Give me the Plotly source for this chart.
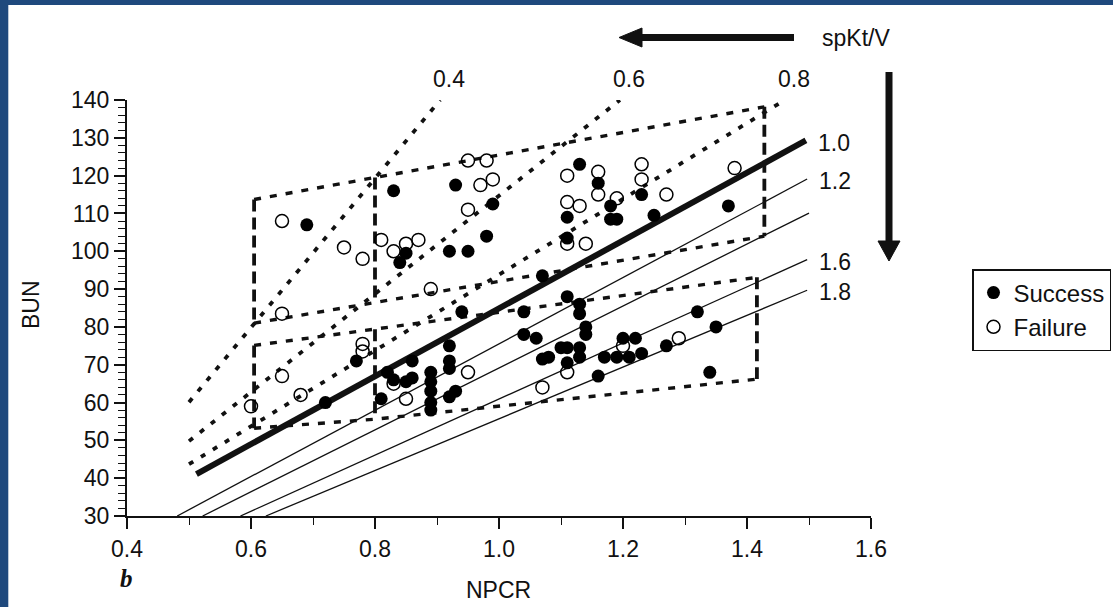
import plotly.graph_objects as go

# ---- patient observations (NPCR, pre-dialysis BUN) ----
success_npcr = [0.69, 0.83, 0.93, 0.99, 0.98, 0.92, 0.95, 0.85, 0.84, 0.94, 0.77, 0.72,
                0.81, 0.82, 0.83, 0.86, 0.85, 0.86, 0.89, 0.89, 0.89, 0.89, 0.89, 0.92,
                0.92, 0.92, 0.93, 0.92, 1.07, 1.11, 1.13, 1.13, 1.14, 1.14, 1.04, 1.04,
                1.06, 1.20, 1.22, 1.10, 1.11, 1.13, 1.07, 1.08, 1.11, 1.13, 1.17, 1.19,
                1.21, 1.23, 1.27, 1.16, 1.32, 1.35, 1.34, 1.13, 1.16, 1.18, 1.18, 1.19,
                1.11, 1.23, 1.25, 1.11, 1.37]
success_bun = [107, 116, 117.5, 112.5, 104, 100, 100, 99.5, 97, 84, 71, 60,
               61, 68, 66, 71, 65.5, 66.5, 68, 65.5, 63, 60, 58, 75,
               71, 69, 63, 61.5, 93.5, 88, 86, 83.5, 80, 78, 84, 78,
               77, 77, 77, 74.5, 74.5, 74.5, 71.5, 72, 70.5, 72, 72, 72,
               72, 73, 75, 67, 84, 80, 68, 123, 118, 112, 108.5, 108.5,
               109, 115, 109.5, 103.5, 112]

failure_npcr = [0.65, 0.75, 0.78, 0.81, 0.83, 0.85, 0.87, 0.89, 0.95, 0.97, 0.99, 0.95,
                0.98, 0.65, 0.65, 0.68, 0.60, 0.78, 0.78, 0.83, 0.85, 0.95, 1.11, 1.16,
                1.16, 1.23, 1.23, 1.27, 1.11, 1.13, 1.19, 1.11, 1.14, 1.38, 1.29, 1.11,
                1.07, 1.20]
failure_bun = [108, 101, 98, 103, 100, 102, 103, 90, 111, 117.5, 119, 124,
               124, 83.5, 67, 62, 59, 75.5, 73.5, 65, 61, 68, 120, 121,
               115, 123, 119, 115, 113, 112, 114, 102, 102, 122, 77, 68,
               64, 75]

# ---- spKt/V iso-lines (solid) ----
ktv_labels = ["1.0", "1.2", "1.4", "1.6", "1.8"]
ktv_npcr_start = [0.512, 0.481, 0.522, 0.583, 0.624]
ktv_bun_start = [41.1, 30, 30, 30, 30]
ktv_npcr_end = [1.495, 1.497, 1.500, 1.497, 1.497]
ktv_bun_end = [129.3, 119.1, 110.1, 97.8, 89.7]
ktv_widths = [6, 1.3, 1.3, 1.3, 1.3]
ktv_labelled = ["1.0", "1.2", "1.6", "1.8"]

# ---- low spKt/V lines (dotted) ----
low_ktv_labels = ["0.4", "0.6", "0.8"]
low_npcr_start = [0.50, 0.50, 0.50]
low_bun_start = [60.1, 49.8, 43.7]
low_npcr_end = [0.905, 1.195, 1.461]
low_bun_end = [140, 140, 140]

# ---- zone boundaries (dashed) ----
zone_edge_npcr = [[0.605, 1.428], [0.605, 1.428], [0.605, 1.416], [0.605, 0.8, 1.416]]
zone_edge_bun = [[113.7, 138.2], [81.0, 104.0], [75.1, 93.1], [53.2, 55.6, 66.2]]
zone_side_npcr = [0.605, 0.605, 0.8, 0.8, 1.428, 1.416]
zone_side_bun_top = [113.7, 75.1, 119.5, 79.4, 138.2, 93.1]
zone_side_bun_bottom = [81.0, 53.2, 86.5, 55.6, 104.0, 66.2]

x_ticks = [0.4, 0.6, 0.8, 1.0, 1.2, 1.4, 1.6]
y_ticks = [30, 40, 50, 60, 70, 80, 90, 100, 110, 120, 130, 140]

W, H = 1113, 607
L, R, T, B = 127, 242, 100, 91
FONT = "Liberation Sans, Arial, Helvetica, sans-serif"
INK = "#111111"
FRAME = "#1f497d"


def fx(p):
    return (p - L) / (W - L - R)


def fy(p):
    return (H - B - p) / (H - T - B)


def joined(xs_list, ys_list):
    xs, ys = [], []
    for a, b in zip(xs_list, ys_list):
        xs += list(a) + [None]
        ys += list(b) + [None]
    return xs, ys


fig = go.Figure()

# zone boundaries
ex, ey = joined(zone_edge_npcr, zone_edge_bun)
fig.add_trace(go.Scatter(x=ex, y=ey, mode="lines", showlegend=False, hoverinfo="skip",
                         line=dict(color=INK, width=3.4, dash="7px,9px")))
sx, sy = joined([[v, v] for v in zone_side_npcr],
                [[a, b] for a, b in zip(zone_side_bun_top, zone_side_bun_bottom)])
fig.add_trace(go.Scatter(x=sx, y=sy, mode="lines", showlegend=False, hoverinfo="skip",
                         line=dict(color=INK, width=3.8, dash="12px,6px")))

# low spKt/V dotted lines
dx, dy = joined([[a, b] for a, b in zip(low_npcr_start, low_npcr_end)],
                [[a, b] for a, b in zip(low_bun_start, low_bun_end)])
fig.add_trace(go.Scatter(x=dx, y=dy, mode="lines", showlegend=False, hoverinfo="skip",
                         line=dict(color=INK, width=3.8, dash="5px,9px")))

# solid spKt/V lines
for i in range(len(ktv_labels)):
    fig.add_trace(go.Scatter(x=[ktv_npcr_start[i], ktv_npcr_end[i]],
                             y=[ktv_bun_start[i], ktv_bun_end[i]],
                             mode="lines", showlegend=False, hoverinfo="skip",
                             line=dict(color=INK, width=ktv_widths[i])))

# patients
fig.add_trace(go.Scatter(x=success_npcr, y=success_bun, mode="markers", name="Success",
                         marker=dict(symbol="circle", size=13, color="black",
                                     line=dict(width=0))))
fig.add_trace(go.Scatter(x=failure_npcr, y=failure_bun, mode="markers", name="Failure",
                         marker=dict(symbol="circle-open", size=13, color="black",
                                     line=dict(width=1.5))))

annotations = []
for lab in ktv_labelled:
    i = ktv_labels.index(lab)
    annotations.append(dict(x=ktv_npcr_end[i] + 0.016, y=ktv_bun_end[i] - 0.6,
                            xref="x", yref="y", text=lab, showarrow=False,
                            xanchor="left", yanchor="middle",
                            font=dict(family=FONT, size=23, color=INK)))
for i, lab in enumerate(low_ktv_labels):
    annotations.append(dict(x=low_npcr_end[i] + 0.015, y=fy(79), xref="x", yref="paper",
                            text=lab, showarrow=False, xanchor="center",
                            yanchor="middle", font=dict(family=FONT, size=23, color=INK)))
annotations += [
    dict(x=fx(856), y=fy(38), xref="paper", yref="paper", text="spKt/V",
         showarrow=False, xanchor="center", yanchor="middle",
         font=dict(family=FONT, size=23, color=INK)),
    dict(x=fx(31), y=fy(305), xref="paper", yref="paper", text="BUN", textangle=-90,
         showarrow=False, xanchor="center", yanchor="middle",
         font=dict(family=FONT, size=23, color=INK)),
    dict(x=fx(498), y=fy(590), xref="paper", yref="paper", text="NPCR",
         showarrow=False, xanchor="center", yanchor="middle",
         font=dict(family=FONT, size=23, color=INK)),
    dict(x=fx(126), y=fy(578), xref="paper", yref="paper", text="<b><i>b</i></b>",
         showarrow=False, xanchor="center", yanchor="middle",
         font=dict(family="Liberation Serif, Times New Roman, serif", size=25, color=INK)),
]

shapes = [
    # frame on the left and top edges
    dict(type="rect", xref="paper", yref="paper", x0=fx(-20), x1=fx(8.3), y0=fy(H + 20),
         y1=fy(-20), fillcolor=FRAME, line=dict(width=0), layer="above"),
    dict(type="rect", xref="paper", yref="paper", x0=fx(-20), x1=fx(W + 20), y0=fy(5),
         y1=fy(-20), fillcolor=FRAME, line=dict(width=0), layer="above"),
    # horizontal arrow
    dict(type="line", xref="paper", yref="paper", x0=fx(794), x1=fx(636), y0=fy(37.5),
         y1=fy(37.5), line=dict(color=INK, width=7)),
    dict(type="path", xref="paper", yref="paper",
         path=f"M {fx(619)},{fy(37.5)} L {fx(642)},{fy(28)} L {fx(642)},{fy(47)} Z",
         fillcolor=INK, line=dict(color=INK, width=1)),
    # vertical arrow
    dict(type="line", xref="paper", yref="paper", x0=fx(889), x1=fx(889), y0=fy(72),
         y1=fy(246), line=dict(color=INK, width=7)),
    dict(type="path", xref="paper", yref="paper",
         path=f"M {fx(889)},{fy(261)} L {fx(878)},{fy(241)} L {fx(900)},{fy(241)} Z",
         fillcolor=INK, line=dict(color=INK, width=1)),
]

axis_common = dict(showgrid=False, zeroline=False, showline=True, linecolor=INK,
                   linewidth=2, ticks="outside", ticklen=11, tickwidth=1.6,
                   tickcolor=INK, tickfont=dict(family=FONT, size=23, color=INK))

fig.update_layout(
    width=W, height=H,
    margin=dict(l=L, r=R, t=T, b=B, pad=0, autoexpand=False),
    paper_bgcolor="white", plot_bgcolor="white",
    xaxis=dict(range=[0.4, 1.6], tickvals=x_ticks,
               ticktext=[f"{v:.1f}" for v in x_ticks],
               minor=dict(ticks="outside", ticklen=7, tickwidth=1.4, tickcolor=INK,
                          tick0=0.4, dtick=0.1),
               **axis_common),
    yaxis=dict(range=[30, 140], tickvals=y_ticks, ticktext=[str(v) for v in y_ticks],
               minor=dict(ticks="outside", ticklen=7, tickwidth=1.4, tickcolor=INK,
                          tick0=30, dtick=2),
               **axis_common),
    legend=dict(x=fx(972), y=fy(269), xanchor="left", yanchor="top",
                bordercolor=INK, borderwidth=1.5, bgcolor="white",
                font=dict(family=FONT, size=24, color=INK), itemwidth=30,
                tracegroupgap=0),
    annotations=annotations,
    shapes=shapes,
)

fig.write_html("out.html")
